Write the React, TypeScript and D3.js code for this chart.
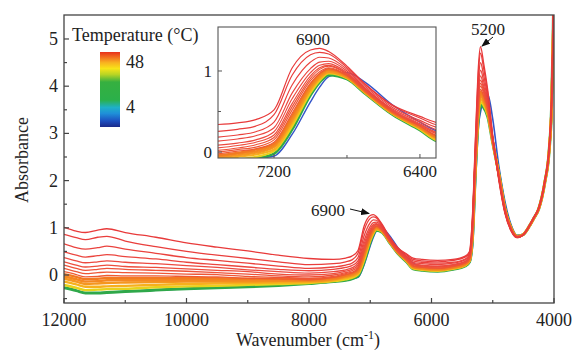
import React from "react";
import * as d3 from "d3";

const wavenumbers = [12000, 11800, 11650, 11450, 11300, 11000, 10500, 10000, 9500, 9000, 8500, 8000, 7600, 7400, 7300, 7200, 7100, 7000, 6950, 6900, 6800, 6700, 6550, 6400, 6300, 6150, 5900, 5650, 5450, 5380, 5330, 5280, 5230, 5200, 5150, 5080, 5000, 4900, 4800, 4700, 4600, 4500, 4400, 4330, 4250, 4150, 4080, 4040, 4015, 4000];

const temperatures = [4, 8, 12, 16, 20, 24, 28, 32, 34, 36, 38, 40, 42, 44, 46, 48];

const abs4 = [-0.27, -0.33, -0.38, -0.38, -0.37, -0.35, -0.32, -0.29, -0.27, -0.25, -0.22, -0.18, -0.14, -0.11, -0.08, -0.05, 0.22, 0.62, 0.80, 0.93, 0.98, 0.86, 0.58, 0.37, 0.25, 0.16, 0.10, 0.12, 0.19, 0.26, 0.60, 2.00, 3.20, 3.45, 3.72, 3.82, 3.30, 2.30, 1.55, 1.06, 0.84, 0.87, 1.04, 1.20, 1.40, 1.95, 2.60, 3.50, 4.95, 6.25];
const abs8 = [-0.27, -0.33, -0.38, -0.38, -0.37, -0.35, -0.32, -0.29, -0.27, -0.25, -0.22, -0.18, -0.14, -0.11, -0.08, -0.02, 0.28, 0.70, 0.86, 0.95, 0.90, 0.72, 0.46, 0.27, 0.13, 0.10, 0.08, 0.12, 0.19, 0.28, 0.80, 2.30, 3.40, 3.60, 3.55, 3.35, 2.80, 2.15, 1.42, 1.00, 0.82, 0.86, 1.04, 1.20, 1.40, 1.96, 2.62, 3.55, 5.00, 6.30];
const abs12 = [-0.21, -0.27, -0.32, -0.31, -0.30, -0.29, -0.26, -0.24, -0.23, -0.21, -0.19, -0.17, -0.13, -0.09, -0.06, 0.01, 0.32, 0.73, 0.88, 0.97, 0.91, 0.73, 0.47, 0.28, 0.14, 0.11, 0.09, 0.13, 0.20, 0.29, 0.83, 2.34, 3.46, 3.66, 3.60, 3.38, 2.81, 2.14, 1.41, 1.00, 0.82, 0.86, 1.04, 1.20, 1.40, 1.96, 2.62, 3.56, 5.01, 6.31];
const abs16 = [-0.14, -0.20, -0.25, -0.25, -0.24, -0.23, -0.21, -0.19, -0.18, -0.17, -0.16, -0.15, -0.11, -0.06, -0.03, 0.03, 0.36, 0.76, 0.90, 0.98, 0.92, 0.73, 0.47, 0.29, 0.15, 0.12, 0.10, 0.14, 0.21, 0.30, 0.85, 2.37, 3.51, 3.72, 3.65, 3.41, 2.82, 2.14, 1.41, 0.99, 0.82, 0.86, 1.04, 1.20, 1.40, 1.96, 2.63, 3.57, 5.02, 6.32];
const abs20 = [-0.08, -0.14, -0.19, -0.18, -0.17, -0.16, -0.15, -0.14, -0.14, -0.14, -0.13, -0.13, -0.09, -0.04, -0.01, 0.06, 0.39, 0.78, 0.92, 0.99, 0.92, 0.74, 0.48, 0.30, 0.17, 0.13, 0.11, 0.15, 0.22, 0.31, 0.88, 2.41, 3.57, 3.79, 3.69, 3.43, 2.82, 2.13, 1.40, 0.99, 0.82, 0.86, 1.04, 1.20, 1.40, 1.97, 2.63, 3.57, 5.03, 6.33];
const abs24 = [-0.03, -0.09, -0.14, -0.13, -0.11, -0.11, -0.11, -0.11, -0.11, -0.11, -0.11, -0.11, -0.08, -0.02, 0.01, 0.08, 0.42, 0.81, 0.94, 1.01, 0.93, 0.74, 0.48, 0.30, 0.17, 0.14, 0.12, 0.16, 0.23, 0.32, 0.90, 2.43, 3.61, 3.84, 3.73, 3.46, 2.83, 2.12, 1.40, 0.99, 0.81, 0.86, 1.04, 1.20, 1.40, 1.97, 2.64, 3.58, 5.04, 6.34];
const abs28 = [0.02, -0.04, -0.09, -0.08, -0.06, -0.06, -0.06, -0.07, -0.07, -0.08, -0.08, -0.09, -0.06, -0.01, 0.03, 0.10, 0.45, 0.83, 0.96, 1.02, 0.94, 0.75, 0.49, 0.31, 0.18, 0.15, 0.13, 0.17, 0.24, 0.33, 0.91, 2.46, 3.65, 3.88, 3.77, 3.48, 2.83, 2.12, 1.39, 0.98, 0.81, 0.86, 1.04, 1.20, 1.40, 1.97, 2.64, 3.58, 5.05, 6.35];
const abs32 = [0.07, 0.01, -0.04, -0.03, -0.01, -0.02, -0.02, -0.03, -0.04, -0.07, -0.08, -0.10, -0.05, 0.01, 0.04, 0.12, 0.48, 0.85, 0.97, 1.03, 0.94, 0.75, 0.49, 0.32, 0.19, 0.16, 0.14, 0.18, 0.25, 0.34, 0.93, 2.49, 3.69, 3.93, 3.80, 3.50, 2.84, 2.11, 1.39, 0.98, 0.81, 0.86, 1.04, 1.21, 1.41, 1.97, 2.64, 3.59, 5.05, 6.35];
const abs34 = [0.14, 0.07, 0.03, 0.05, 0.06, 0.05, 0.04, 0.02, 0.01, -0.03, -0.05, -0.07, -0.03, 0.03, 0.06, 0.15, 0.52, 0.88, 0.99, 1.04, 0.95, 0.76, 0.50, 0.32, 0.20, 0.17, 0.15, 0.19, 0.26, 0.35, 0.96, 2.53, 3.75, 4.00, 3.86, 3.53, 2.85, 2.10, 1.38, 0.98, 0.81, 0.86, 1.04, 1.21, 1.41, 1.97, 2.65, 3.60, 5.06, 6.36];
const abs36 = [0.21, 0.14, 0.10, 0.12, 0.14, 0.12, 0.10, 0.08, 0.05, 0.02, -0.02, -0.04, 0.00, 0.05, 0.09, 0.18, 0.56, 0.91, 1.02, 1.06, 0.96, 0.77, 0.51, 0.33, 0.22, 0.19, 0.17, 0.20, 0.27, 0.36, 0.99, 2.56, 3.81, 4.06, 3.91, 3.56, 2.86, 2.09, 1.38, 0.97, 0.81, 0.86, 1.04, 1.21, 1.41, 1.97, 2.65, 3.61, 5.07, 6.37];
const abs38 = [0.28, 0.21, 0.17, 0.19, 0.21, 0.18, 0.16, 0.13, 0.10, 0.07, 0.02, 0.00, 0.03, 0.08, 0.12, 0.21, 0.60, 0.94, 1.04, 1.07, 0.97, 0.77, 0.51, 0.34, 0.23, 0.20, 0.18, 0.21, 0.28, 0.37, 1.01, 2.60, 3.87, 4.13, 3.96, 3.59, 2.86, 2.09, 1.37, 0.97, 0.81, 0.86, 1.04, 1.21, 1.41, 1.98, 2.65, 3.61, 5.09, 6.39];
const abs40 = [0.37, 0.30, 0.26, 0.28, 0.30, 0.27, 0.24, 0.20, 0.16, 0.11, 0.07, 0.04, 0.07, 0.11, 0.15, 0.25, 0.66, 0.98, 1.07, 1.09, 0.98, 0.78, 0.52, 0.35, 0.24, 0.21, 0.19, 0.22, 0.29, 0.39, 1.05, 2.65, 3.95, 4.22, 4.02, 3.62, 2.87, 2.08, 1.36, 0.97, 0.81, 0.86, 1.05, 1.21, 1.41, 1.98, 2.66, 3.62, 5.10, 6.40];
const abs42 = [0.49, 0.42, 0.38, 0.41, 0.43, 0.39, 0.34, 0.27, 0.22, 0.17, 0.12, 0.09, 0.12, 0.16, 0.20, 0.30, 0.73, 1.03, 1.11, 1.12, 1.00, 0.79, 0.53, 0.37, 0.27, 0.24, 0.22, 0.25, 0.32, 0.41, 1.10, 2.72, 4.05, 4.34, 4.12, 3.68, 2.89, 2.06, 1.35, 0.96, 0.80, 0.85, 1.05, 1.21, 1.41, 1.98, 2.67, 3.64, 5.12, 6.42];
const abs44 = [0.66, 0.58, 0.55, 0.58, 0.61, 0.55, 0.46, 0.37, 0.31, 0.25, 0.19, 0.14, 0.17, 0.21, 0.25, 0.37, 0.83, 1.11, 1.17, 1.16, 1.02, 0.81, 0.55, 0.39, 0.30, 0.27, 0.25, 0.27, 0.34, 0.44, 1.16, 2.81, 4.20, 4.50, 4.24, 3.75, 2.91, 2.04, 1.33, 0.95, 0.80, 0.85, 1.05, 1.21, 1.41, 1.99, 2.68, 3.66, 5.15, 6.45];
const abs46 = [0.86, 0.79, 0.75, 0.80, 0.82, 0.72, 0.60, 0.50, 0.42, 0.35, 0.28, 0.22, 0.24, 0.28, 0.32, 0.46, 0.95, 1.20, 1.23, 1.21, 1.04, 0.83, 0.57, 0.42, 0.33, 0.30, 0.28, 0.31, 0.38, 0.47, 1.24, 2.92, 4.37, 4.70, 4.39, 3.84, 2.93, 2.02, 1.31, 0.94, 0.79, 0.85, 1.05, 1.22, 1.42, 2.00, 2.69, 3.68, 5.18, 6.48];
const abs48 = [1.01, 0.93, 0.90, 0.95, 0.98, 0.90, 0.80, 0.68, 0.59, 0.51, 0.42, 0.35, 0.33, 0.36, 0.40, 0.52, 1.04, 1.26, 1.28, 1.24, 1.06, 0.84, 0.58, 0.44, 0.36, 0.33, 0.31, 0.33, 0.40, 0.50, 1.30, 3.00, 4.50, 4.84, 4.50, 3.90, 2.95, 2.00, 1.30, 0.93, 0.79, 0.85, 1.05, 1.22, 1.42, 2.00, 2.70, 3.70, 5.20, 6.50];

const spectra = [abs4, abs8, abs12, abs16, abs20, abs24, abs28, abs32, abs34, abs36, abs38, abs40, abs42, abs44, abs46, abs48];

const xTicksMajor = [12000, 10000, 8000, 6000, 4000];
const xTicksMinor = [11000, 9000, 7000, 5000];
const yTicksMajor = [0, 1, 2, 3, 4, 5];
const yTicksMinor = [-0.5, 0.5, 1.5, 2.5, 3.5, 4.5];
const insetXMajor = [7200, 6400];
const insetXMinor = [6800];
const insetYMajor = [0, 1];
const insetYMinor = [0.5];
const colorbarLabels = [48, 4];
const peakLabels = ["6900", "5200"];

const FONT = "'Liberation Serif', 'Times New Roman', serif";

export default function App() {
  const W = 573, H = 350;
  const L = 64, R = 554, T = 15, B = 303;
  const x = d3.scaleLinear().domain([12000, 4000]).range([L, R]);
  const y = d3.scaleLinear().domain([-0.593, 5.508]).range([B, T]);
  const IL = 218, IR = 436, IT = 27, IB = 158;
  const xi = d3.scaleLinear().domain([7507, 6312]).range([IL, IR]);
  const yi = d3.scaleLinear().domain([-0.074, 1.543]).range([IB, IT]);

  const color = d3
    .scaleLinear<string>()
    .domain([4, 8, 12, 16, 20, 28, 32, 40, 48])
    .range(["#3455c8", "#2fa84a", "#e8d21c", "#f7b01c", "#f5961f", "#f27a22", "#ef5a32", "#ec4a40", "#e83a3a"])
    .interpolate(d3.interpolateRgb);

  const width = (t: number) => (t === 4 ? 1.6 : t === 8 ? 3 : t < 32 ? 2.4 : 1.3);

  const mainLine = d3
    .line<number>()
    .x((_, i) => x(wavenumbers[i]))
    .y((v) => y(v))
    .curve(d3.curveMonotoneX);

  const insetIdx = wavenumbers.map((w, i) => i).filter((i) => wavenumbers[i] <= 7700 && wavenumbers[i] >= 6100);

  const cbStops = [
    [0, "#1b2a8a"],
    [0.08, "#1d4fc0"],
    [0.18, "#1f8fd8"],
    [0.26, "#1fb0c8"],
    [0.36, "#2bb04a"],
    [0.6, "#36b040"],
    [0.7, "#b8d424"],
    [0.78, "#f8e418"],
    [0.86, "#f8b020"],
    [0.93, "#f27020"],
    [1, "#e8301c"],
  ];
  const cbScale = d3.scaleLinear().domain([4, 48]).range([108, 63]);

  return (
    <svg width={W} height={H} style={{ position: "absolute", left: 0, top: 0, background: "#fff" }} fontFamily={FONT}>
      <defs>
        <clipPath id="mainClip">
          <rect x={L} y={T} width={R - L} height={B - T} />
        </clipPath>
        <clipPath id="insetClip">
          <rect x={IL} y={IT} width={IR - IL} height={IB - IT} />
        </clipPath>
        <linearGradient id="cb" x1="0" y1="1" x2="0" y2="0">
          {cbStops.map(([o, c], i) => (
            <stop key={i} offset={o as number} stopColor={c as string} />
          ))}
        </linearGradient>
        <marker id="arrow" markerUnits="userSpaceOnUse" markerWidth="9" markerHeight="7" refX="8" refY="3.5" orient="auto">
          <path d="M0,0 L9,3.5 L0,7 z" fill="#111" />
        </marker>
      </defs>
      <rect x={0} y={0} width={W} height={H} fill="#fff" />

      <g clipPath="url(#mainClip)">
        {spectra.map((s, k) => (
          <path key={k} d={mainLine(s) || ""} fill="none" stroke={color(temperatures[k])} strokeWidth={width(temperatures[k])} strokeLinejoin="round" />
        ))}
      </g>

      <rect x={L} y={T} width={R - L} height={B - T} fill="none" stroke="#444" strokeWidth={1.3} />
      {xTicksMajor.map((t) => (
        <g key={t}>
          <line x1={x(t)} x2={x(t)} y1={B} y2={B - 5} stroke="#444" strokeWidth={1.2} />
          <text x={x(t)} y={326} textAnchor="middle" fontSize={18} fill="#222">{t}</text>
        </g>
      ))}
      {xTicksMinor.map((t) => (
        <line key={t} x1={x(t)} x2={x(t)} y1={B} y2={B - 3} stroke="#444" strokeWidth={1.2} />
      ))}
      {yTicksMajor.map((t) => (
        <g key={t}>
          <line x1={L} x2={L + 5} y1={y(t)} y2={y(t)} stroke="#444" strokeWidth={1.2} />
          <text x={58} y={y(t) + 6} textAnchor="end" fontSize={18} fill="#222">{t}</text>
        </g>
      ))}
      {yTicksMinor.map((t) => (
        <line key={t} x1={L} x2={L + 3} y1={y(t)} y2={y(t)} stroke="#444" strokeWidth={1.2} />
      ))}
      <text x={308} y={346} textAnchor="middle" fontSize={18} fill="#222">
        Wavenumber (cm<tspan dy={-7} fontSize={12}>-1</tspan><tspan dy={7}>)</tspan>
      </text>
      <text transform={`translate(28,160) rotate(-90)`} textAnchor="middle" fontSize={18} fill="#222">Absorbance</text>

      <text x={72} y={41} fontSize={18} fill="#222">Temperature (°C)</text>
      <rect x={100} y={52} width={20} height={75} fill="url(#cb)" />
      {colorbarLabels.map((v) => (
        <text key={v} x={126} y={cbScale(v) + 5} fontSize={18} fill="#222">{v}</text>
      ))}

      <text x={328} y={216} textAnchor="middle" fontSize={17} fill="#222">{peakLabels[0]}</text>
      <line x1={350} y1={209} x2={369} y2={213.5} stroke="#111" strokeWidth={1} markerEnd="url(#arrow)" />
      <text x={488} y={35} textAnchor="middle" fontSize={17} fill="#222">{peakLabels[1]}</text>
      <line x1={493} y1={37} x2={482} y2={46} stroke="#111" strokeWidth={1} markerEnd="url(#arrow)" />

      <rect x={IL} y={IT} width={IR - IL} height={IB - IT} fill="#fff" />
      <g clipPath="url(#insetClip)">
        {spectra.map((s, k) => {
          const gen = d3
            .line<number>()
            .x((i) => xi(wavenumbers[i]))
            .y((i) => yi(s[i]))
            .curve(d3.curveMonotoneX);
          return (
            <path key={k} d={gen(insetIdx) || ""} fill="none" stroke={color(temperatures[k])} strokeWidth={width(temperatures[k]) * 0.9} strokeLinejoin="round" />
          );
        })}
      </g>
      <rect x={IL} y={IT} width={IR - IL} height={IB - IT} fill="none" stroke="#555" strokeWidth={1.1} />
      {insetXMajor.map((t) => (
        <g key={t}>
          <line x1={xi(t)} x2={xi(t)} y1={IB} y2={IB - 4} stroke="#555" />
          <text x={xi(t)} y={177} textAnchor="middle" fontSize={17} fill="#222">{t}</text>
        </g>
      ))}
      {insetXMinor.map((t) => (
        <line key={t} x1={xi(t)} x2={xi(t)} y1={IB} y2={IB - 3} stroke="#555" />
      ))}
      {insetYMajor.map((t) => (
        <g key={t}>
          <line x1={IL} x2={IL + 4} y1={yi(t)} y2={yi(t)} stroke="#555" />
          <text x={212} y={yi(t) + 6} textAnchor="end" fontSize={17} fill="#222">{t}</text>
        </g>
      ))}
      {insetYMinor.map((t) => (
        <line key={t} x1={IL} x2={IL + 3} y1={yi(t)} y2={yi(t)} stroke="#555" />
      ))}
      <text x={313} y={45} textAnchor="middle" fontSize={17} fill="#222">{peakLabels[0]}</text>
    </svg>
  );
}
